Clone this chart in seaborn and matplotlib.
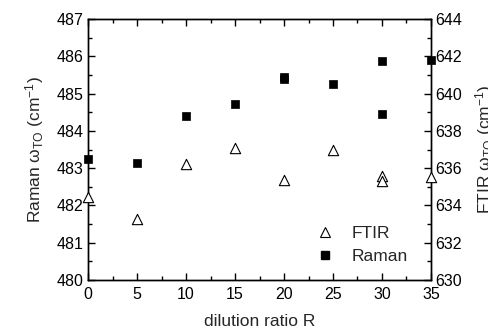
import matplotlib
matplotlib.use("Agg")
import matplotlib.pyplot as plt
import seaborn as sns
import pandas as pd
from matplotlib.ticker import MultipleLocator
from matplotlib.lines import Line2D

# data
raman_R = [0, 5, 10, 15, 20, 20, 25, 30, 30, 35]
raman_w = [483.24, 483.15, 484.40, 484.71, 485.45, 485.38, 485.26, 485.87, 484.46, 485.91]
ftir_R = [0, 5, 10, 15, 20, 25, 30, 30, 35]
ftir_w = [634.47, 633.26, 636.22, 637.07, 635.36, 636.97, 635.58, 635.33, 635.55]

sns.set_theme(style="ticks")
plt.rcParams['font.family'] = ['Liberation Sans', 'DejaVu Sans']
plt.rcParams['mathtext.fontset'] = 'custom'
plt.rcParams['mathtext.rm'] = 'Liberation Sans'
plt.rcParams['mathtext.it'] = 'Liberation Sans:italic'

raman_df = pd.DataFrame({"R": raman_R, "w": raman_w})
ftir_df = pd.DataFrame({"R": ftir_R, "w": ftir_w})

fig = plt.figure(figsize=(4.89, 3.33), dpi=100)
ax = fig.add_axes([88/489, 53/333, (431-88)/489, (280-19)/333])
ax2 = ax.twinx()

sns.scatterplot(data=raman_df, x="R", y="w", ax=ax, marker="s", s=38,
                color="black", edgecolor="black", linewidth=0.5, clip_on=False, zorder=5)
sns.scatterplot(data=ftir_df, x="R", y="w", ax=ax2, marker="^", s=55,
                facecolor="white", edgecolor="black", linewidth=0.8, clip_on=False, zorder=5)

ax.set_xlim(0, 35)
ax.set_ylim(480, 487)
ax2.set_ylim(630, 644)

ax.xaxis.set_major_locator(MultipleLocator(5))
ax.xaxis.set_minor_locator(MultipleLocator(2.5))
ax.yaxis.set_major_locator(MultipleLocator(1))
ax.yaxis.set_minor_locator(MultipleLocator(0.5))
ax2.yaxis.set_major_locator(MultipleLocator(2))
ax2.yaxis.set_minor_locator(MultipleLocator(1))

for a in (ax, ax2):
    for sp in a.spines.values():
        sp.set_visible(True)
        sp.set_linewidth(1.0)
        sp.set_color("black")

ax.tick_params(axis="both", which="both", direction="in", top=True, right=False,
               labelsize=11.5, colors="black", pad=3)
ax.tick_params(axis="x", which="both", pad=5)
ax.tick_params(which="major", length=5, width=1)
ax.tick_params(which="minor", length=3, width=1)
ax2.tick_params(axis="y", which="both", direction="in", right=True, left=False,
                labelsize=11.5, colors="black", pad=3)
ax2.tick_params(which="major", length=5, width=1)
ax2.tick_params(which="minor", length=3, width=1)

ax.set_xlabel("dilution ratio R", fontsize=12.5, labelpad=9)
ax.set_ylabel("Raman ω$_{\\mathrm{TO}}$ (cm$^{-1}$)", fontsize=12.5, labelpad=8)
ax2.set_ylabel("FTIR ω$_{\\mathrm{TO}}$ (cm$^{-1}$)", fontsize=12.5, labelpad=8)
ax.grid(False)
ax2.grid(False)

handles = [
    Line2D([], [], linestyle="none", marker="^", markersize=7.5,
           markerfacecolor="white", markeredgecolor="black", markeredgewidth=0.8),
    Line2D([], [], linestyle="none", marker="s", markersize=6,
           markerfacecolor="black", markeredgecolor="black"),
]
ax.legend(handles, ["FTIR", "Raman"], loc="lower right", bbox_to_anchor=(0.977, 0.0),
          frameon=False, fontsize=12.5, handletextpad=0.5, labelspacing=0.45)
if ax2.get_legend() is not None:
    ax2.get_legend().remove()

fig.savefig("out.png", dpi=100)
